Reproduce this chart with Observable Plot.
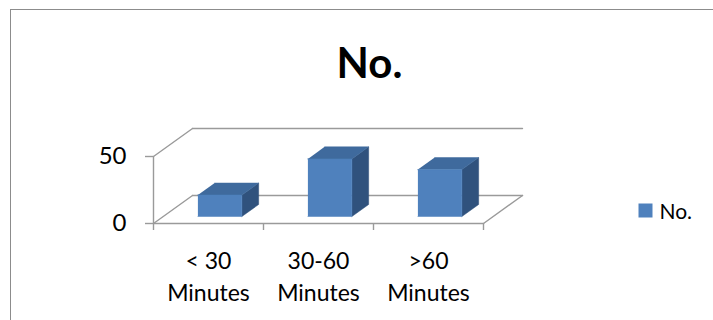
<!DOCTYPE html>
<html>
<head>
<meta charset="utf-8">
<script src="https://cdn.jsdelivr.net/npm/d3@7"></script>
<script src="https://cdn.jsdelivr.net/npm/@observablehq/plot@0.6"></script>
<style>
  html, body { margin: 0; padding: 0; background: white; }
  #wrap { position: relative; width: 713px; height: 320px; overflow: hidden; background: white; }
  #wrap svg { position: absolute; left: 0; top: 0; }
  #border { position: absolute; left: 10px; top: 9px; width: 900px; height: 500px; border: 1.5px solid #8c8c8c; box-sizing: border-box; }
</style>
</head>
<body>
<div id="wrap"><div id="border"></div></div>
<script>
// ---- data ----
const title = "No.";
const seriesName = "No.";
const categories = ["< 30 Minutes", "30-60 Minutes", ">60 Minutes"];
const tickLabels = ["< 30\nMinutes", "30-60\nMinutes", ">60\nMinutes"];
const values = [16, 43, 35];
const yTicks = [0, 50];

// ---- 3D oblique projection (depth expressed in data units) ----
const DX = 39 / 110;   // x shift per unit depth (category units)
const DY = 28 / 1.34;  // y shift per unit depth (value units)
const P = (x, v, z) => ({x: x + z * DX, y: v + z * DY});
const n = categories.length;
const yMax = yTicks[yTicks.length - 1];

// frame lines (walls + floor)
const frameLines = [];
let seg = 0;
function addSeg(a, b) { frameLines.push({...a, id: seg}, {...b, id: seg}); seg++; }
for (const t of yTicks) {
  addSeg(P(0, t, 1), P(n, t, 1));   // back wall gridline
  addSeg(P(0, t, 0), P(0, t, 1));   // side wall gridline
}
addSeg(P(0, 0, 0), P(n, 0, 0));     // floor front edge
addSeg(P(n, 0, 0), P(n, 0, 1));     // floor right edge
addSeg(P(0, 0, 0), P(0, yMax, 0)); // value axis line

// bar faces
const z0 = 0.25, z1 = 0.68, b0 = 0.315, b1 = 0.715;
const frontFaces = [], topFaces = [], sideFaces = [];
values.forEach((v, i) => {
  const xa = i + b0, xb = i + b1;
  [[xa,0,z0],[xb,0,z0],[xb,v,z0],[xa,v,z0]].forEach(p => frontFaces.push({...P(...p), id: i}));
  [[xa,v,z0],[xb,v,z0],[xb,v,z1],[xa,v,z1]].forEach(p => topFaces.push({...P(...p), id: i}));
  [[xb,0,z0],[xb,0,z1],[xb,v,z1],[xb,v,z0]].forEach(p => sideFaces.push({...P(...p), id: i}));
});

const gray = "#9a9a9a";
const chart = Plot.plot({
  width: 713,
  height: 320,
  marginLeft: 153,
  marginRight: 230,
  marginTop: 156,
  marginBottom: 97,
  style: {fontFamily: "Lato, sans-serif", background: "transparent", color: "black"},
  x: {domain: [0, n], axis: null},
  y: {domain: [0, yMax], axis: null},
  marks: [
    Plot.line(frameLines, {x: "x", y: "y", z: "id", stroke: gray, strokeWidth: 1.4}),
    Plot.axisY({ticks: yTicks, label: null, tickSize: 8, tickPadding: 19, fontSize: 24, stroke: gray, strokeWidth: 1.4, fill: "black"}),
    Plot.axisX({ticks: d3.range(n + 1), label: null, tickSize: 7, tickFormat: () => "", stroke: gray, strokeWidth: 1.4}),
    Plot.line(sideFaces, {x: "x", y: "y", z: "id", fill: "#30527d", stroke: "#30527d", strokeWidth: 0.5}),
    Plot.line(topFaces, {x: "x", y: "y", z: "id", fill: "#3f6a9d", stroke: "#3f6a9d", strokeWidth: 0.5}),
    Plot.line(frontFaces, {x: "x", y: "y", z: "id", fill: "#4f81bd", stroke: "#4f81bd", strokeWidth: 0.5}),
    Plot.text(tickLabels, {x: (d, i) => i + 0.5, text: d => d, frameAnchor: "bottom", dy: 22, lineAnchor: "top", lineHeight: 1.42, fontSize: 23, fill: "black"}),
    Plot.text([title], {frameAnchor: "top", dx: 51, dy: -79, lineAnchor: "bottom", fontSize: 42, fontWeight: "bold", fill: "black"}),
    Plot.dot([seriesName], {frameAnchor: "bottom-right", dx: 162, dy: -13, symbol: "square", r: 7.9, fill: "#4f81bd", stroke: "none"}),
    Plot.text([seriesName], {frameAnchor: "bottom-right", dx: 176, dy: -5, textAnchor: "start", lineAnchor: "bottom", fontSize: 21, fill: "black"})
  ]
});
document.getElementById("wrap").prepend(chart);
</script>
</body>
</html>
